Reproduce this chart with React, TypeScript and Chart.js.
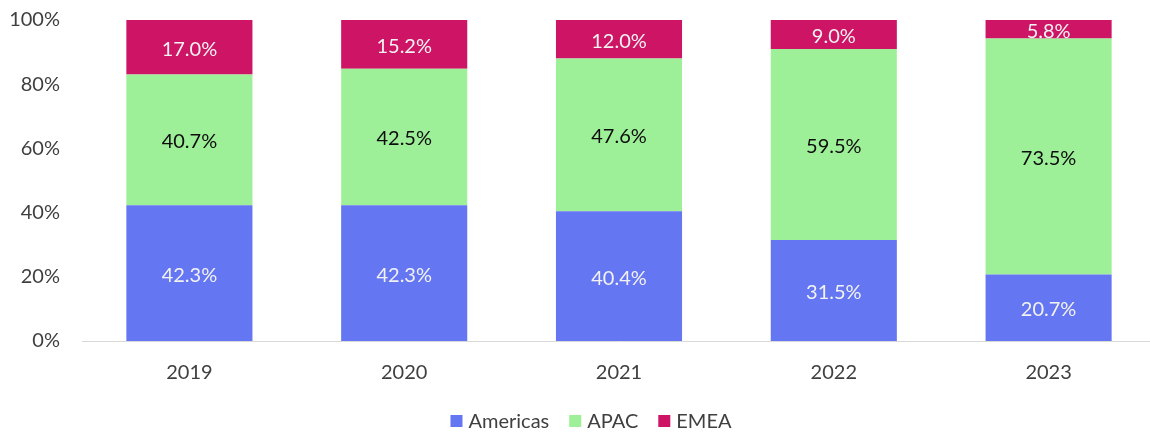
import React, { useEffect, useRef } from "react";
import { Chart, registerables } from "chart.js";

Chart.register(...registerables);

const categories = ["2019", "2020", "2021", "2022", "2023"];
const americas = [42.3, 42.3, 40.4, 31.5, 20.7];
const apac = [40.7, 42.5, 47.6, 59.5, 73.5];
const emea = [17.0, 15.2, 12.0, 9.0, 5.8];
const seriesNames = ["Americas", "APAC", "EMEA"];
const seriesColors = ["#6476F1", "#9EF098", "#CE1464"];
const labelColors = ["#F2F2F2", "#0D0D0D", "#F2F2F2"];
const yTicks = [0, 20, 40, 60, 80, 100];

const FONT = "Lato, 'Open Sans', sans-serif";
const W = 1156;
const H = 433;

const valueLabels = {
  id: "valueLabels",
  afterDatasetsDraw(chart: any) {
    const ctx = chart.ctx;
    ctx.save();
    ctx.font = `20px ${FONT}`;
    ctx.textAlign = "center";
    ctx.textBaseline = "middle";
    chart.data.datasets.forEach((ds: any, di: number) => {
      const meta = chart.getDatasetMeta(di);
      meta.data.forEach((bar: any, i: number) => {
        const { x, y, base } = bar.getProps(["x", "y", "base"], true);
        ctx.fillStyle = labelColors[di];
        ctx.fillText(ds.data[i].toFixed(1) + "%", x, (y + base) / 2 + 2);
      });
    });
    ctx.restore();
  },
};

const bottomLegend = {
  id: "bottomLegend",
  afterDraw(chart: any) {
    const ctx = chart.ctx;
    ctx.save();
    ctx.font = `20px ${FONT}`;
    ctx.textBaseline = "middle";
    const box = 12;
    const gapBoxText = 6;
    const gapItems = 20;
    const widths = seriesNames.map((n) => ctx.measureText(n).width);
    const total =
      widths.reduce((a, b) => a + b, 0) +
      seriesNames.length * (box + gapBoxText) +
      (seriesNames.length - 1) * gapItems;
    const centerX = 591;
    const cy = 421;
    let x = centerX - total / 2;
    seriesNames.forEach((n, i) => {
      ctx.fillStyle = seriesColors[i];
      ctx.fillRect(x, cy - box / 2, box, box);
      x += box + gapBoxText;
      ctx.fillStyle = "#404040";
      ctx.fillText(n, x, cy + 1);
      x += widths[i] + gapItems;
    });
    ctx.restore();
  },
};

export default function App() {
  const ref = useRef<HTMLCanvasElement>(null);

  useEffect(() => {
    if (!ref.current) return;
    const chart = new Chart(ref.current, {
      type: "bar",
      data: {
        labels: categories,
        datasets: [americas, apac, emea].map((d, i) => ({
          label: seriesNames[i],
          data: d,
          backgroundColor: seriesColors[i],
          borderWidth: 0,
          barPercentage: 0.587,
          categoryPercentage: 1,
        })),
      },
      options: {
        responsive: false,
        animation: false,
        devicePixelRatio: 1,
        layout: { padding: { top: 20, right: 0, bottom: 30, left: 0 } },
        plugins: {
          legend: { display: false },
          title: { display: false },
          tooltip: { enabled: false },
        },
        scales: {
          x: {
            stacked: true,
            grid: { display: false, drawTicks: false },
            border: { display: true, color: "#D9D9D9", width: 1 },
            ticks: {
              color: "#404040",
              font: { family: FONT, size: 20 },
              padding: 20,
            },
            afterFit(scale: any) {
              scale.height = 62;
              scale.paddingLeft = 0;
              scale.paddingRight = 0;
            },
          },
          y: {
            stacked: true,
            min: 0,
            max: 100,
            grid: { display: false, drawTicks: false },
            border: { display: false },
            afterBuildTicks(scale: any) {
              scale.ticks = yTicks.map((v) => ({ value: v }));
            },
            ticks: {
              color: "#404040",
              font: { family: FONT, size: 20 },
              padding: 22,
              callback: (v: any) => v + "%",
            },
            afterFit(scale: any) {
              scale.width = 82;
              scale.paddingTop = 0;
              scale.paddingBottom = 0;
            },
          },
        },
      },
      plugins: [valueLabels, bottomLegend],
    });
    return () => chart.destroy();
  }, []);

  return (
    <div
      style={{
        position: "fixed",
        left: 0,
        top: 0,
        width: W,
        height: H,
        background: "#fff",
      }}
    >
      <canvas ref={ref} width={W} height={H} style={{ width: W, height: H }} />
    </div>
  );
}
